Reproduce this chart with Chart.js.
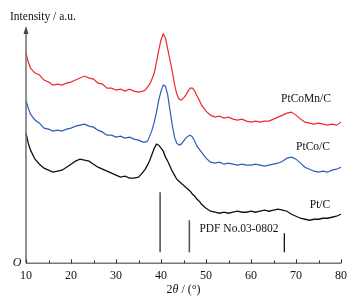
<!DOCTYPE html>
<html><head><meta charset="utf-8">
<script src="https://cdn.jsdelivr.net/npm/chart.js@4/dist/chart.umd.min.js"></script>
<style>html,body{margin:0;padding:0;background:#fff}#wrap{width:359px;height:301px}</style>
</head><body><div id="wrap"><canvas id="c" width="359" height="301"></canvas></div>
<script>
const theta = [10,10.5,11,12,13,14,15,16,17,18,19,20,21,22,23,24,25,26,27,28,29,30,31,32,33,34,35,36,36.5,37,37.5,38,38.5,39,39.5,40,40.5,41,41.5,42,42.5,43,43.5,44,44.5,45,45.5,46,46.5,47,47.5,48,48.5,49,50,51,52,53,54,55,56,57,58,59,60,61,62,63,64,65,66,67,68,69,70,71,72,73,74,75,76,77,78,79,80];
const ptCoMnC = [210,201,195,190,188,183,181,178,179,178,180,181,183,185,187,185,184,180,179,175,175,173,174,172,174,172,171,172,173,176,179,184,190,201,213,223,229,225,214,203,192,179,169,164,163,165,168,172,175,175,172,167,163,158,152,148,146,147,145,146,144,143,144,142,141,142,141,142,142,144,146,148,150,151,148,144,141,140,139,140,139,138,139,138,141];
const ptCoC = [163,155,149,143,140,135,134,132,133,132,134,135,137,138,139,137,136,133,131,128,128,126,127,125,126,124,123,121,121,122,127,133,141,151,163,172,178,177,168,153,138,126,120,118,119,122,125,127,128,126,122,117,114,111,105,101,100,101,99,100,99,98,99,98,98,99,98,97,98,99,100,102,105,106,104,100,96,94,92,91,92,91,93,94,96];
const ptC = [130,120,113,104,99,95,93,91,92,93,96,99,102,104,103,102,99,96,94,92,90,88,86,87,85,85,86,91,94,98,103,109,115,119,118,115,112,106,102,97,92,88,84,82,80,78,76,74,72,69,67,64,62,59,55,52,51,50,51,50,51,52,51,51,52,51,52,53,52,53,54,53,52,49,47,45,44,43,44,44,45,45,46,47,49];
const seriesNames = ['PtCoMn/C','PtCo/C','Pt/C'];
const pdfPositions = [39.8, 46.3, 67.4];
const pdfTop = [71, 43, 30];
const pdfBottom = 11;
const xTicks = [10,20,30,40,50,60,70,80];

const toXY = arr => arr.map((v,i)=>({x:theta[i], y:v}));
const ds = [
  {label:seriesNames[0], data:toXY(ptCoMnC), borderColor:'#ee2a2a', borderWidth:1.2},
  {label:seriesNames[1], data:toXY(ptCoC), borderColor:'#2c5db5', borderWidth:1.2},
  {label:seriesNames[2], data:toXY(ptC), borderColor:'#111111', borderWidth:1.3}
];
pdfPositions.forEach((p,i)=>{
  ds.push({label:'pdf'+i, data:[{x:p,y:pdfBottom},{x:p,y:pdfTop[i]}], borderColor: i<2?'#555':'#000', borderWidth: i<2?1.6:1.2});
});
ds.forEach(d=>{d.pointRadius=0; d.tension=0; d.fill=false; d.clip=false;});

const SERIF = '"Liberation Serif","Times New Roman",serif';
const deco = {
  id:'deco',
  afterDraw(chart){
    const {ctx, chartArea:a, scales:{x,y}} = chart;
    ctx.save();
    ctx.strokeStyle='#777'; ctx.lineWidth=1.6;
    ctx.beginPath(); ctx.moveTo(a.left, a.bottom); ctx.lineTo(x.getPixelForValue(80), a.bottom); ctx.stroke();
    ctx.beginPath(); ctx.moveTo(a.left, a.bottom); ctx.lineTo(a.left, 32); ctx.stroke();
    ctx.fillStyle='#444';
    ctx.beginPath(); ctx.moveTo(a.left, 26); ctx.lineTo(a.left-2.5, 34); ctx.lineTo(a.left+2.5, 34); ctx.closePath(); ctx.fill();
    ctx.strokeStyle='#333'; ctx.lineWidth=1;
    for(let v=10; v<=80; v+=5){
      const px = Math.round(x.getPixelForValue(v))+0.5;
      const len = (v%10===0)?4:3;
      ctx.beginPath(); ctx.moveTo(px, a.bottom); ctx.lineTo(px, a.bottom-len); ctx.stroke();
    }
    ctx.fillStyle='#111'; ctx.textBaseline='middle';
    ctx.font='11.5px '+SERIF; ctx.textAlign='left';
    ctx.fillText('Intensity / a.u.', 10, 17);
    ctx.font='italic 12px '+SERIF; ctx.textAlign='center';
    ctx.fillText('O', 17, 263);
    ctx.font='11.5px '+SERIF;
    ctx.fillText(seriesNames[0], 306, 99);
    ctx.fillText(seriesNames[1], 313, 147);
    ctx.fillText(seriesNames[2], 320, 205);
    ctx.fillText('PDF No.03-0802', 239, 229);
    const parts = [['2','12px '+SERIF],['θ','italic 12px '+SERIF],[' / (°)','12px '+SERIF]];
    let w=0; parts.forEach(p=>{ctx.font=p[1]; w+=ctx.measureText(p[0]).width;});
    let cx = (a.left+a.right)/2 - w/2; ctx.textAlign='left';
    parts.forEach(p=>{ctx.font=p[1]; ctx.fillText(p[0], cx, 290); cx+=ctx.measureText(p[0]).width;});
    ctx.restore();
  }
};

new Chart(document.getElementById('c'), {
  type:'line',
  data:{datasets:ds},
  options:{
    responsive:false, animation:false, devicePixelRatio:1,
    layout:{padding:{left:26, right:18, top:20, bottom:13.3}},
    plugins:{legend:{display:false}, tooltip:{enabled:false}},
    scales:{
      x:{type:'linear', min:10, max:80,
        afterBuildTicks: s => { s.ticks = xTicks.map(v=>({value:v})); },
        grid:{display:false, drawTicks:false}, border:{display:false},
        ticks:{padding:5, color:'#111', font:{family:SERIF, size:12}, maxRotation:0}},
      y:{display:false, min:0, max:243}
    }
  },
  plugins:[deco]
});
</script>
</body></html>
